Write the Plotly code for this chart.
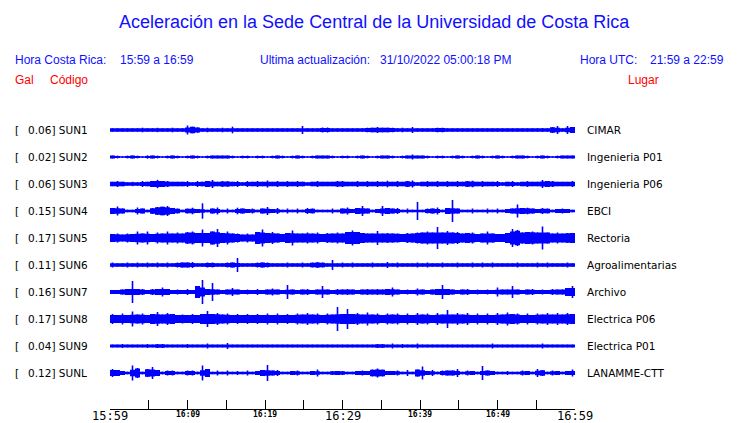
import plotly.graph_objects as go

# ---------------- data ----------------
codes = ["SUN1", "SUN2", "SUN3", "SUN4", "SUN5", "SUN6", "SUN7", "SUN8", "SUN9", "SUNL"]
peak_gal = ["0.06", "0.02", "0.06", "0.15", "0.17", "0.11", "0.16", "0.17", "0.04", "0.12"]
places = ["CIMAR", "Ingenieria P01", "Ingenieria P06", "EBCI", "Rectoria",
          "Agroalimentarias", "Archivo", "Electrica P06", "Electrica P01", "LANAMME-CTT"]

tick_minutes = [0, 5, 10, 15, 20, 25, 30, 35, 40, 45, 50, 55, 60]
label_minutes = [0, 10, 20, 30, 40, 50, 60]
label_texts = ["15:59", "16:09", "16:19", "16:29", "16:39", "16:49", "16:59"]
label_major = [True, False, False, True, False, False, True]

# envelope (half-amplitude) of each trace, 93 windows over the hour
env_SUN1 = [1.7,1.7,1.7,1.7,1.7,1.7,2.3,1.7,1.7,2.2,
            1.7,1.7,2.3,1.7,1.7,4.5,3.3,2.7,1.7,2.3,
            1.7,1.7,2.3,1.7,3.3,1.7,1.7,1.7,1.7,1.7,
            1.7,1.7,1.7,1.7,1.7,1.7,1.7,1.7,4.0,1.7,
            1.7,1.7,2.5,2.5,1.7,1.7,1.7,1.7,1.7,1.7,
            1.7,2.3,2.3,3.0,2.3,2.3,2.3,1.7,2.3,1.7,
            3.0,1.7,1.7,1.7,1.7,2.3,2.3,1.7,1.7,1.7,
            1.7,1.7,1.7,1.7,1.7,1.7,1.7,1.7,1.7,1.7,
            1.7,1.7,1.7,1.7,1.7,1.7,2.0,1.7,3.0,4.0,
            1.7,4.0,3.0]
env_SUN2 = [1.4,1.4,0.8,1.4,1.4,1.4,0.8,1.7,1.4,1.4,
            0.8,1.4,1.4,1.4,0.8,1.4,1.4,1.4,0.8,1.4,
            1.4,1.4,1.4,1.4,1.4,0.8,1.4,1.4,0.8,1.4,
            1.4,0.8,1.4,1.4,1.4,0.8,1.4,1.4,1.4,0.8,
            1.4,1.4,1.4,1.4,1.4,0.8,1.4,1.4,0.8,1.4,
            1.4,1.4,0.8,1.4,1.4,1.4,1.4,0.8,1.4,1.4,
            2.5,1.4,1.4,1.4,0.8,1.4,1.4,0.8,1.4,1.4,
            1.4,0.8,1.4,1.4,1.4,0.8,1.4,1.4,1.4,0.8,
            1.4,1.4,1.4,1.4,0.8,1.4,1.4,1.4,0.8,1.4,
            1.4,1.4,1.4]
env_SUN3 = [2.2,3.0,2.2,1.7,2.2,1.7,3.0,2.2,3.0,4.2,
            3.0,3.0,2.2,2.2,2.2,3.0,1.7,3.0,2.2,3.0,
            4.0,2.2,3.0,3.0,2.2,3.0,1.7,3.0,2.2,3.0,
            2.2,3.5,2.2,3.0,2.2,3.0,2.2,3.0,2.2,1.7,
            2.2,3.0,2.2,2.2,2.2,3.0,3.0,2.2,2.2,3.0,
            2.2,3.0,2.2,3.0,2.2,3.3,2.2,3.0,2.2,3.0,
            3.5,1.7,2.2,3.0,2.2,3.0,2.2,3.0,2.2,3.0,
            2.2,3.0,3.3,2.2,3.0,2.2,2.2,3.0,1.7,2.2,
            3.0,1.7,2.2,3.0,2.2,2.2,4.0,3.0,3.0,2.2,
            2.2,2.2,3.0]
env_SUN4 = [3.0,4.5,2.5,1.3,1.3,3.5,2.5,1.3,3.0,4.0,
            4.3,5.0,3.0,2.5,1.3,2.5,3.3,2.0,7.7,1.3,
            2.5,3.5,1.3,2.5,1.3,3.3,2.5,2.0,2.5,1.3,
            2.5,4.0,2.0,3.0,1.3,2.5,1.3,2.5,1.3,3.0,
            2.5,1.3,1.3,1.3,2.5,1.3,2.5,3.5,2.0,3.0,
            5.0,2.5,1.3,2.0,5.0,3.0,2.5,3.0,1.3,2.5,
            1.3,9.0,1.3,2.5,2.5,3.5,1.3,3.0,11.0,2.5,
            1.3,1.3,2.5,1.3,1.3,2.5,1.3,2.5,1.3,2.0,
            2.5,6.5,3.0,3.3,2.5,2.0,3.0,2.5,1.3,2.0,
            2.5,2.0,1.3]
env_SUN5 = [4.0,4.5,3.5,4.5,4.0,6.5,4.5,6.5,4.0,5.5,
            4.5,6.5,4.5,5.5,4.5,6.0,6.5,5.0,8.5,5.0,
            6.5,9.0,5.0,6.5,4.5,4.5,3.5,4.5,3.5,6.0,
            8.5,5.0,6.0,4.5,4.0,5.0,7.5,4.5,4.5,5.5,
            4.5,5.5,4.0,5.0,4.5,5.5,4.5,6.0,7.5,6.0,
            5.0,4.5,4.5,7.0,4.5,5.0,4.5,4.5,4.0,5.0,
            4.5,5.5,5.5,6.5,5.5,11.0,5.5,7.0,5.5,6.0,
            4.5,5.0,5.5,4.0,4.5,6.5,4.5,4.0,4.0,5.0,
            9.0,8.0,5.5,6.0,6.5,5.5,11.5,5.5,4.5,5.5,
            4.5,5.0,5.0]
env_SUN6 = [2.5,1.7,1.7,2.5,1.7,2.5,1.7,2.5,1.7,2.5,
            1.7,2.5,1.7,2.5,2.5,2.5,3.0,1.7,1.7,2.5,
            2.5,1.7,1.7,2.5,2.5,7.0,1.7,1.7,1.7,2.5,
            2.5,2.5,1.7,1.7,1.7,2.5,1.7,1.7,2.5,1.7,
            2.5,3.0,2.5,1.7,5.0,1.7,2.5,1.7,2.5,1.7,
            1.7,1.7,2.5,1.7,1.7,3.0,1.7,2.5,1.7,1.7,
            1.7,2.5,1.7,2.5,1.7,1.7,2.5,1.7,1.7,2.5,
            1.7,1.7,2.5,1.7,2.5,1.7,2.5,1.7,1.7,1.7,
            1.7,2.5,1.7,1.7,1.7,2.5,1.7,2.5,1.7,1.7,
            1.7,2.5,1.7]
env_SUN7 = [2.0,2.0,2.5,3.0,11.0,3.0,3.0,2.0,3.0,3.0,
            4.5,3.0,2.0,2.5,2.0,3.0,2.0,6.0,12.0,3.0,
            9.0,2.5,2.0,2.5,4.0,2.5,2.0,2.5,2.0,3.0,
            2.0,2.5,3.5,2.5,2.0,7.0,2.5,2.0,2.5,3.0,
            2.0,2.5,6.0,2.5,2.0,3.0,2.5,3.0,2.5,2.0,
            2.5,3.0,2.5,3.0,2.5,3.0,4.5,2.5,2.0,2.5,
            2.0,3.5,2.5,2.0,2.5,3.0,7.0,3.0,2.5,2.0,
            2.5,3.0,2.0,2.5,2.0,2.5,2.0,4.5,2.5,2.5,
            6.0,2.5,2.0,2.5,3.0,2.0,2.5,2.0,3.0,2.5,
            2.5,4.0,6.0]
env_SUN8 = [5.0,4.0,5.5,4.0,7.5,4.5,5.5,4.0,5.0,7.0,
            4.5,6.0,5.0,4.0,4.5,4.0,5.0,4.0,5.0,8.0,
            5.0,6.0,4.5,5.5,4.0,5.0,4.0,5.0,4.0,5.0,
            4.0,5.5,4.0,5.5,4.0,5.0,4.0,5.5,4.5,6.0,
            4.5,5.5,4.0,5.5,4.5,12.0,5.0,10.0,5.0,6.0,
            4.5,6.5,4.5,5.5,4.0,5.5,4.5,5.5,4.0,5.5,
            4.0,6.0,4.5,5.5,4.0,6.0,4.5,9.0,4.5,6.0,
            4.5,6.0,4.0,5.5,4.0,5.5,4.0,6.0,4.5,6.5,
            5.0,5.5,4.0,5.5,4.0,5.5,4.5,6.0,4.5,6.0,
            4.5,6.0,5.0]
env_SUN9 = [1.4,1.4,2.0,1.4,1.4,1.4,1.4,2.0,1.4,2.0,
            2.0,1.4,1.4,1.4,1.4,2.0,1.4,1.4,1.4,2.5,
            1.4,1.4,1.4,3.0,1.4,1.4,1.4,1.4,1.4,1.4,
            1.4,1.4,1.4,1.4,1.4,1.4,1.4,1.4,1.4,1.4,
            1.4,1.4,1.4,1.4,1.4,1.4,1.4,1.4,1.4,1.4,
            1.4,1.4,1.4,2.0,2.0,1.4,2.5,1.4,2.0,1.4,
            1.4,2.5,1.4,1.4,1.4,1.4,1.4,1.4,1.4,1.4,
            1.4,1.4,1.4,1.4,1.4,1.4,2.5,1.4,1.4,1.4,
            1.4,1.4,1.4,1.4,1.4,1.4,2.5,1.4,1.4,1.4,
            1.4,1.4,1.4]
env_SUNL = [4.0,3.0,2.0,1.3,7.5,5.0,1.3,4.0,6.0,3.0,
            1.3,2.5,2.5,1.3,1.3,2.5,2.5,1.3,7.5,4.0,
            1.3,2.5,1.3,2.5,1.3,2.0,1.3,2.5,1.3,2.0,
            3.0,8.0,2.5,3.0,1.3,1.3,2.0,2.5,1.3,1.3,
            2.0,3.5,1.3,1.3,2.0,2.0,2.0,1.3,1.3,2.0,
            2.5,2.0,3.5,4.5,3.5,2.0,2.0,2.5,1.3,3.0,
            1.3,3.5,6.5,2.0,3.0,1.3,2.5,2.5,2.5,4.0,
            1.3,2.5,2.0,1.3,7.0,2.5,2.0,1.3,1.3,2.0,
            1.3,1.3,2.5,2.0,1.3,4.0,3.0,1.3,2.5,2.0,
            1.3,2.0,3.5]

envelopes = [env_SUN1, env_SUN2, env_SUN3, env_SUN4, env_SUN5,
             env_SUN6, env_SUN7, env_SUN8, env_SUN9, env_SUNL]

# ---------------- layout constants ----------------
W, H = 740, 423
ML, MR, MT, MB = 110, 165, 117, 14
PW, PH = W - ML - MR, H - MT - MB
LANE_PX = 27.0
FIRST_CENTER_PX = 130.0
TRACE_BLUE = "#0000ff"
HEAD_BLUE = "#1010ff"
RED = "#ff0000"

def px_x(px):
    return (px - ML) / PW

def px_y(py):
    return (MT + PH - py) / PH

# y axis in lane units (lane k centred at k), reversed
y_top = (MT - FIRST_CENTER_PX) / LANE_PX
y_bot = (MT + PH - FIRST_CENTER_PX) / LANE_PX

fig = go.Figure()

for k, env in enumerate(envelopes):
    n = len(env)
    t = [(i + 0.5) * 60.0 / n for i in range(n)]
    amp = [a / LANE_PX for a in env]
    # continuous body of the trace; isolated peaks are drawn as thin strokes
    floor = []
    for i in range(n):
        nb = [amp[j] for j in (i - 1, i + 1) if 0 <= j < n]
        floor.append(min(amp[i], sum(nb) / len(nb)))
    xs = [0.0] + t + [60.0]
    fl = [floor[0]] + floor + [floor[-1]]
    poly_x = xs + xs[::-1]
    poly_y = [k - f for f in fl] + [k + f for f in fl[::-1]]
    fig.add_trace(go.Scatter(x=poly_x, y=poly_y, mode="lines", fill="toself",
                             fillcolor=TRACE_BLUE,
                             line=dict(width=0, color=TRACE_BLUE, shape="hvh"),
                             hoverinfo="skip", showlegend=False))
    sx, sy = [], []
    for ti, a in zip(t, amp):
        sx += [ti, ti, None]
        sy += [k - a, k + a, None]
    fig.add_trace(go.Scatter(x=sx, y=sy, mode="lines",
                             line=dict(width=1.6, color=TRACE_BLUE),
                             hoverinfo="skip", showlegend=False))

ann = []
# title and header
ann.append(dict(text="Aceleración en la Sede Central de la Universidad de Costa Rica",
                x=px_x(374), y=px_y(22), xanchor="center", yanchor="middle",
                font=dict(size=18, color=HEAD_BLUE, family="Liberation Sans")))
head = [("Hora Costa Rica:", 13), ("15:59 a 16:59", 118),
        ("Ultima actualización:", 258), ("31/10/2022 05:00:18 PM", 378),
        ("Hora UTC:", 578), ("21:59 a 22:59", 648)]
for txt, xp in head:
    ann.append(dict(text=txt, x=px_x(xp), y=px_y(60), xanchor="left", yanchor="middle",
                    font=dict(size=12, color=HEAD_BLUE, family="Liberation Sans")))
for txt, xp in [("Gal", 13), ("Código", 48), ("Lugar", 626)]:
    ann.append(dict(text=txt, x=px_x(xp), y=px_y(80), xanchor="left", yanchor="middle",
                    font=dict(size=12, color=RED, family="Liberation Sans")))

# station labels
for k in range(len(codes)):
    ann.append(dict(text="[", x=px_x(13), y=k, yref="y", xanchor="left", yanchor="middle",
                    font=dict(size=10.5, color="black", family="DejaVu Sans")))
    ann.append(dict(text=f"{peak_gal[k]}] {codes[k]}", x=px_x(25.5), y=k, yref="y",
                    xanchor="left", yanchor="middle",
                    font=dict(size=10.5, color="black", family="DejaVu Sans")))
    ann.append(dict(text=places[k], x=px_x(585), y=k, yref="y", xanchor="left",
                    yanchor="middle", font=dict(size=10.5, color="black", family="DejaVu Sans")))

# time labels
for m, txt, major in zip(label_minutes, label_texts, label_major):
    ann.append(dict(text=(txt if major else f"<b>{txt}</b>"), x=m, xref="x", y=0,
                    yref="paper", xanchor="center", yanchor="top",
                    yshift=0 if major else -1, borderpad=0, borderwidth=0,
                    font=dict(size=12 if major else 8, color="black",
                              family="DejaVu Sans Mono")))

for a in ann:
    a.setdefault("xref", "paper")
    a.setdefault("yref", "paper")
    a["showarrow"] = False

fig.update_layout(
    width=W, height=H,
    margin=dict(l=ML, r=MR, t=MT, b=MB, pad=0),
    paper_bgcolor="white", plot_bgcolor="white",
    font=dict(family="Liberation Sans"),
    showlegend=False,
    annotations=ann,
    xaxis=dict(range=[0, 60], showgrid=False, zeroline=False, showline=True,
               linecolor="black", linewidth=1, ticks="inside", ticklen=9,
               tickwidth=1, tickcolor="black", tickvals=tick_minutes,
               showticklabels=False, fixedrange=True),
    yaxis=dict(range=[y_bot, y_top], visible=False, showgrid=False,
               zeroline=False, fixedrange=True),
)

fig.write_html("out.html", config={"displayModeBar": False},
               post_script="document.body.style.margin='0';document.body.style.overflow='hidden';")
